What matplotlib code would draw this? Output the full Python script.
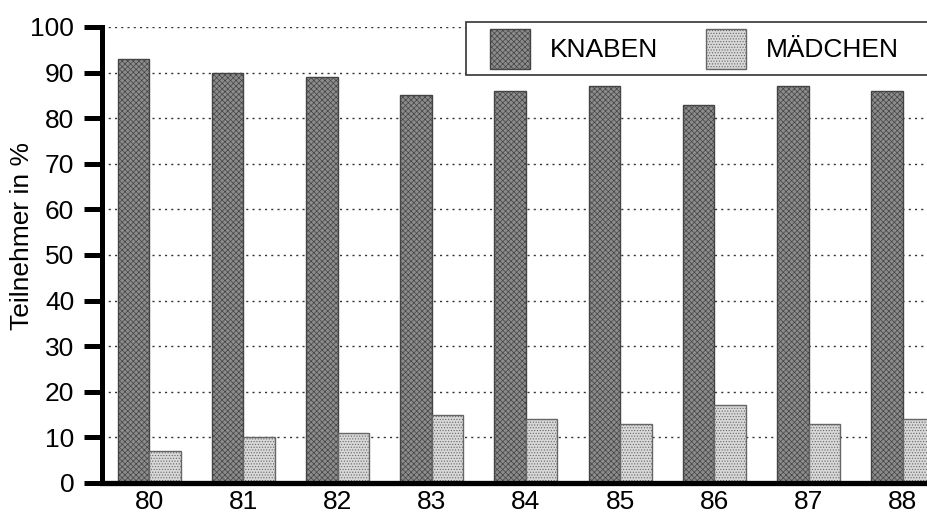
import matplotlib
matplotlib.use("Agg")
import matplotlib.pyplot as plt
import numpy as np
from matplotlib.patches import Rectangle

years = ["80", "81", "82", "83", "84", "85", "86", "87", "88"]
knaben = [93, 90, 89, 85, 86, 87, 83, 87, 86]
maedchen = [7, 10, 11, 15, 14, 13, 17, 13, 14]
series_names = ["KNABEN", "MÄDCHEN"]

plt.rcParams['font.family'] = ['Liberation Sans', 'DejaVu Sans']
plt.rcParams['hatch.linewidth'] = 0.5

W, H = 928, 520
fig = plt.figure(figsize=(W / 100, H / 100), dpi=100)
left_px, right_px, top_px, bot_px = 102, 928, 27, 483
ax = fig.add_axes([left_px / W, 1 - bot_px / H, (right_px - left_px) / W, (bot_px - top_px) / H])

x = np.arange(len(years))
bw = 0.335
c_k = '#8c8c8c'
c_m = '#d8d8d8'
h_k = 'xxxxxx'
h_m = '......'
e_k = '#444444'
e_m = '#666666'
ax.bar(x - bw / 2, knaben, bw, color=c_k, edgecolor=e_k, linewidth=1.0,
       hatch=h_k, zorder=3)
ax.bar(x + bw / 2, maedchen, bw, color=c_m, edgecolor=e_m, linewidth=1.0,
       hatch=h_m, zorder=3)

ax.set_xlim(-0.5, (928 - 150) / 94.1)
ax.set_ylim(0, 100)
ax.set_yticks(range(0, 101, 10))
ax.set_xticks(x)
ax.set_xticklabels(years)
ax.tick_params(axis='y', direction='out', length=13, width=3.6, labelsize=19, pad=7)
ax.tick_params(axis='x', length=0, labelsize=19, pad=5)

for y in range(10, 101, 10):
    ax.axhline(y, color='#333333', linestyle=(0, (1.5, 3)), linewidth=1.0, zorder=1)

for s in ['top', 'right']:
    ax.spines[s].set_visible(False)
ax.spines['left'].set_linewidth(3.6)
ax.spines['bottom'].set_linewidth(3.8)
ax.spines['left'].set_zorder(5)
ax.spines['bottom'].set_zorder(5)

def px(xp, yp):
    return xp / W, 1 - yp / H

lx_, ly_ = px(22, 236)
fig.text(lx_, ly_, "Teilnehmer in %", fontsize=19, rotation=90, ha='center', va='center')

# legend drawn in figure pixel coordinates
fx, fy = px(466, 75)
fig.patches.append(Rectangle((fx, fy), (960 - 466) / W, 53 / H, transform=fig.transFigure,
                             facecolor='white', edgecolor='#333333', linewidth=1.2,
                             zorder=6))
for (lx, name, fc, hc, ec) in [(490, series_names[0], c_k, h_k, e_k),
                               (706, series_names[1], c_m, h_m, e_m)]:
    rx, ry = px(lx, 69)
    fig.patches.append(Rectangle((rx, ry), 40 / W, 40 / H, transform=fig.transFigure,
                                 facecolor=fc, edgecolor=ec, hatch=hc, linewidth=1.0,
                                 zorder=7))
    tx, ty = px(lx + 60, 50)
    fig.text(tx, ty, name, fontsize=19, va='center', ha='left', zorder=8)

fig.savefig("out.png", dpi=100)
